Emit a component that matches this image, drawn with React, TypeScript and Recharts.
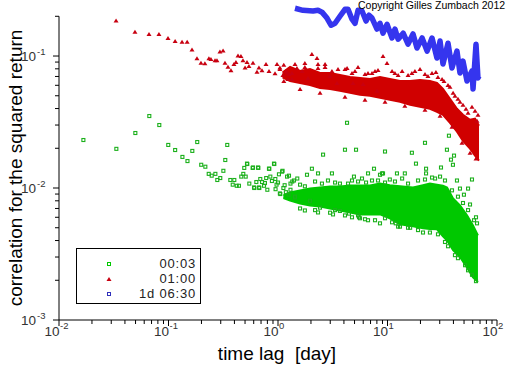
import React from "react";
import { ComposedChart, XAxis, YAxis, Scatter, Area, Line, ReferenceLine } from "recharts";

// sampling 00:03 — [lag (day), correlation]
const sparse0003: [number, number][] = [
  [0.0167, 0.0231], [0.0334, 0.0198], [0.0498, 0.0261], [0.0668, 0.0351], [0.0824, 0.03],
  [0.0995, 0.0212], [0.115, 0.0194], [0.134, 0.0172], [0.149, 0.016], [0.165, 0.0191],
  [0.183, 0.0223], [0.199, 0.015], [0.217, 0.0145], [0.233, 0.0128], [0.248, 0.0124],
  [0.268, 0.0128], [0.279, 0.0115], [0.297, 0.0119], [0.317, 0.0135], [0.33, 0.0163],
  [0.344, 0.0212], [0.367, 0.0115], [0.386, 0.0106], [0.399, 0.0115], [0.42, 0.0104],
  [0.44, 0.0104], [0.462, 0.0122], [0.482, 0.0128], [0.492, 0.0142], [0.507, 0.0122],
  [0.524, 0.0152], [0.547, 0.0108], [0.587, 0.0142], [0.608, 0.01], [0.634, 0.0111],
  [0.661, 0.0142], [0.675, 0.01], [0.689, 0.0117], [0.715, 0.0111], [0.745, 0.0104],
  [0.799, 0.0097], [0.833, 0.014], [0.851, 0.0122], [0.925, 0.0152], [0.945, 0.0117],
  [1.0, 0.011], [1.05, 0.009], [1.1, 0.0135], [1.12, 0.01], [1.21, 0.0122],
  [1.25, 0.0089], [1.4, 0.0114], [1.43, 0.0085],
  [0.521, 0.0153], [0.591, 0.0143], [0.657, 0.0143], [0.827, 0.014], [0.919, 0.0153],
  [1.09, 0.0133], [1.26, 0.0124], [1.84, 0.0126], [2.04, 0.014], [2.32, 0.0129],
  [2.58, 0.0179], [3.11, 0.0129], [4.09, 0.0195], [4.27, 0.0312], [5.16, 0.0195],
  [4.94, 0.0122], [6.64, 0.0129], [7.53, 0.014], [8.54, 0.0126], [9.1, 0.0129], [9.49, 0.0189],
  [0.604, 0.0101], [0.671, 0.0101], [1.04, 0.0091], [1.43, 0.0086], [1.96, 0.008],
  [2.42, 0.0071], [3.32, 0.0068], [3.68, 0.0067], [4.45, 0.0064], [5.38, 0.0062],
  [6.23, 0.0058], [5.49, 0.006], [9.49, 0.0059],
  [16.7, 0.0185], [22.0, 0.022], [18.2, 0.0153], [34.9, 0.0195], [36.4, 0.0249],
  [38.0, 0.0164], [40.5, 0.0176], [39.6, 0.015], [30.8, 0.0143], [22.5, 0.014],
  [22.5, 0.0129], [12.2, 0.0129], [14.4, 0.0129], [8.91, 0.0129], [43.1, 0.0114],
  [45.9, 0.0099], [54.4, 0.0099], [59.1, 0.0116], [49.9, 0.0089], [56.7, 0.0075],
  [64.3, 0.006], [65.7, 0.0054],
  [13.0, 0.0051], [15.4, 0.005], [21.1, 0.0046], [11.9, 0.0054],
  [1.59, 0.0106], [2.18, 0.0112], [2.86, 0.0114], [3.68, 0.0108], [4.74, 0.0114],
  [5.85, 0.0118], [7.22, 0.0114], [10.5, 0.0116], [13.6, 0.0118], [19.0, 0.0114],
  [25.5, 0.012], [30.2, 0.0122],
  [1.59, 0.007], [2.18, 0.0068], [2.99, 0.0065], [4.09, 0.0062], [5.61, 0.0059],
  [7.69, 0.0057], [11.0, 0.0055], [16.1, 0.005], [24.4, 0.0046], [33.5, 0.0039],
  [41.3, 0.0031], [51.1, 0.0026], [59.1, 0.0022],
  [1.15, 0.0105], [1.3, 0.0097], [1.35, 0.0112], [1.5, 0.0118], [0.95, 0.0098],
  [0.88, 0.0113], [0.78, 0.0119], [0.76, 0.0109], [1.18, 0.0093], [1.02, 0.0127],
  [0.97, 0.0106], [1.3, 0.0108],
  [1.76, 0.0103], [2.52, 0.0108], [3.32, 0.011], [4.36, 0.0108], [5.38, 0.0112],
  [6.37, 0.011], [8.19, 0.0114], [9.49, 0.011], [11.7, 0.0112], [15.4, 0.0108],
  [22.0, 0.0116], [27.2, 0.0118], [33.5, 0.0114], [38.8, 0.0096], [44.0, 0.0086],
  [48.9, 0.0077], [54.4, 0.0068], [61.7, 0.0057],
  [1.76, 0.00676], [2.32, 0.00653], [3.18, 0.00631], [4.74, 0.006], [6.64, 0.0057],
  [8.54, 0.0054], [12.5, 0.0051], [19.0, 0.0048], [28.9, 0.00446], [35.7, 0.00362],
  [44.0, 0.00294], [54.4, 0.00238], [64.3, 0.00197],
];

// dense part of 00:03 — [lag, upper, lower]
const band0003: [number, number, number][] = [
  [1.12, 0.0088, 0.0084],
  [1.29, 0.00925, 0.00805], [1.59, 0.00958, 0.00764], [1.96, 0.00991, 0.00738],
  [2.42, 0.01009, 0.00725], [2.99, 0.01026, 0.007], [3.68, 0.01026, 0.00676],
  [4.55, 0.01045, 0.00653], [5.61, 0.01045, 0.00631], [6.92, 0.01045, 0.00631],
  [8.54, 0.0108, 0.00631], [10.5, 0.0105, 0.00589], [13.0, 0.0103, 0.0053],
  [17.1, 0.0101, 0.00512], [21.1, 0.0105, 0.00495], [24.4, 0.0108, 0.0049],
  [28.3, 0.0106, 0.00486], [32.1, 0.0104, 0.0043], [35.0, 0.0101, 0.004],
  [39.7, 0.00833, 0.00338], [45.9, 0.00738, 0.003], [53.2, 0.0062, 0.0025],
  [60.4, 0.00521, 0.0021], [67.0, 0.00438, 0.00194],
];

// sampling 01:00
const sparse0100: [number, number][] = [
  [0.0332, 0.186], [0.0494, 0.153], [0.0664, 0.147], [0.0818, 0.147], [0.099, 0.137],
  [0.115, 0.13], [0.133, 0.128], [0.148, 0.128], [0.164, 0.112], [0.182, 0.096],
  [0.198, 0.089], [0.215, 0.088], [0.234, 0.096], [0.244, 0.095], [0.266, 0.093],
  [0.277, 0.093], [0.295, 0.108], [0.315, 0.11], [0.328, 0.089], [0.349, 0.083],
  [0.372, 0.078], [0.396, 0.087], [0.413, 0.09], [0.431, 0.101], [0.459, 0.1],
  [0.479, 0.093], [0.5, 0.082], [0.521, 0.09], [0.543, 0.084], [0.591, 0.089],
  [0.643, 0.076], [0.67, 0.082], [0.714, 0.078], [0.777, 0.087], [0.828, 0.077],
  [0.939, 0.074], [0.979, 0.087], [1.04, 0.082], [1.13, 0.086], [1.21, 0.075], [1.26, 0.073],
  [1.34, 0.0671], [1.49, 0.0812], [1.66, 0.0771], [1.76, 0.0886], [1.88, 0.0682],
  [2.04, 0.1035], [2.27, 0.0966], [2.32, 0.0812], [2.69, 0.087], [2.98, 0.0706],
  [3.46, 0.0625], [4.27, 0.0812], [4.84, 0.0625], [5.98, 0.0615], [7.22, 0.0744], [8.02, 0.0545],
  [2.69, 0.0826], [3.11, 0.0771], [4.09, 0.0798], [4.74, 0.0744], [5.38, 0.0826],
  [6.23, 0.0731], [7.69, 0.0771], [9.1, 0.1], [9.9, 0.0886], [11.7, 0.0744],
  [13.6, 0.0771], [15.4, 0.0719], [17.8, 0.0771], [22.0, 0.0731], [25.5, 0.0744],
  [28.9, 0.0694], [32.8, 0.0647], [37.2, 0.0584], [41.3, 0.0499], [45.9, 0.045],
  [52.1, 0.0398], [59.1, 0.0412], [63.0, 0.0385], [67.0, 0.0359],
  [1.04, 0.0798], [1.11, 0.0719], [1.18, 0.0771], [1.23, 0.067], [1.13, 0.0647], [1.34, 0.0744],
  [1.43, 0.087], [1.76, 0.0826], [2.32, 0.087], [3.53, 0.0798], [5.05, 0.0771],
  [6.64, 0.0744], [8.19, 0.0784], [11.0, 0.0771], [12.5, 0.0719], [16.7, 0.0744],
  [19.8, 0.0798], [23.4, 0.0706], [27.7, 0.0757], [31.5, 0.067], [35.7, 0.0604],
  [39.7, 0.0526], [44.0, 0.0474], [48.9, 0.0427], [54.4, 0.0372], [65.7, 0.0323],
  [1.59, 0.0563], [2.42, 0.0526], [4.09, 0.0491], [6.23, 0.0466], [9.49, 0.045],
  [14.4, 0.042], [22.0, 0.0391], [30.2, 0.0352], [38.8, 0.0291], [47.9, 0.022],
  [56.7, 0.0185], [64.3, 0.0167],
];

const band0100: [number, number, number][] = [
  [1.1, 0.075, 0.069],
  [1.29, 0.0826, 0.0647], [1.59, 0.0771, 0.0625], [1.96, 0.0798, 0.0604],
  [2.42, 0.0744, 0.0573], [2.99, 0.0744, 0.0563], [3.68, 0.0719, 0.0545],
  [4.55, 0.0694, 0.0526], [5.61, 0.0682, 0.0508], [6.92, 0.067, 0.0499],
  [8.54, 0.0694, 0.0482], [10.5, 0.067, 0.0466], [13.0, 0.0647, 0.045],
  [16.1, 0.0647, 0.0427], [19.8, 0.0659, 0.0412], [24.4, 0.0647, 0.0398],
  [28.3, 0.0625, 0.0378], [32.1, 0.0563, 0.0359], [37.2, 0.0474, 0.0312],
  [43.1, 0.0398, 0.0267], [48.9, 0.0359, 0.0228], [56.7, 0.0329, 0.0199],
  [63.0, 0.0335, 0.0176], [68.5, 0.0296, 0.0161],
];

// sampling 1d 06:30
const series1d0630: [number, number][] = [
  [1.43, 0.23], [1.69, 0.222], [2.09, 0.219], [2.32, 0.222], [2.52, 0.215],
  [2.8, 0.194], [3.05, 0.171], [3.32, 0.177], [3.68, 0.2], [4.09, 0.226],
  [4.36, 0.226], [4.74, 0.19], [5.05, 0.177], [5.38, 0.222], [5.85, 0.219],
  [6.37, 0.184], [6.78, 0.204], [7.22, 0.194], [8.02, 0.16], [8.54, 0.177],
  [9.1, 0.149], [9.9, 0.174], [11.0, 0.137], [11.7, 0.16], [12.5, 0.134],
  [13.9, 0.149], [15.4, 0.123], [17.1, 0.147], [18.6, 0.115], [20.7, 0.137],
  [23.0, 0.109], [25.5, 0.137], [28.3, 0.0966], [30.2, 0.13], [32.1, 0.087],
  [35.7, 0.125], [38.8, 0.0812], [43.1, 0.109], [45.9, 0.0744], [48.9, 0.0916],
  [53.2, 0.0647], [59.1, 0.0771], [60.4, 0.0563], [64.3, 0.123], [67.0, 0.0682], [68.5, 0.0706],
];

const seriesNames = ["00:03", "01:00", "1d 06:30"];
const seriesColors = ["#00c800", "#d00000", "#3535ee"];

const xMajorTicks = [0.01, 0.1, 1, 10, 100];
const xTickExponents = ["-2", "-1", "0", "1", "2"];
const yMajorTicks = [0.001, 0.01, 0.1];
const yTickExponents = ["-3", "-2", "-1"];
const minorSteps = [2, 3, 4, 5, 6, 7, 8, 9];

const xTicks = [
  ...xMajorTicks,
  ...[0.01, 0.1, 1, 10].flatMap((d) => minorSteps.map((m) => m * d)),
];
const yTicks = [
  ...yMajorTicks,
  ...[0.001, 0.01].flatMap((d) => minorSteps.map((m) => m * d)),
  0.2,
];

const toPoints = (a: [number, number][]) => a.map(([lag, corr]) => ({ lag, corr }));
const toBand = (a: [number, number, number][]) =>
  a.map(([lag, hi, lo]) => ({ lag, band: [lo, hi] }));

const font = "'Liberation Sans', Arial, sans-serif";

const XTick = (props: any) => {
  const { x, y, payload } = props;
  const i = xMajorTicks.findIndex((t) => Math.abs(t - payload.value) < t * 1e-6);
  if (i < 0) return <line x1={x} x2={x} y1={y} y2={y + 4} stroke="#000" />;
  return (
    <g fontFamily={font} fill="#333">
      <line x1={x} x2={x} y1={y} y2={y + 6} stroke="#000" />
      <text x={x + 0.5} y={y + 16} textAnchor="end" fontSize={13.5}>10</text>
      <text x={x + 1} y={y + 9} textAnchor="start" fontSize={9.5}>{xTickExponents[i]}</text>
    </g>
  );
};

const YTick = (props: any) => {
  const { x, y, payload } = props;
  const i = yMajorTicks.findIndex((t) => Math.abs(t - payload.value) < t * 1e-6);
  if (i < 0) return <line x1={x - 4} x2={x} y1={y} y2={y} stroke="#000" />;
  return (
    <g fontFamily={font} fill="#333">
      <line x1={x - 6} x2={x} y1={y} y2={y} stroke="#000" />
      <text x={x - 23} y={y + 5} textAnchor="end" fontSize={13.5}>10</text>
      <text x={x - 22} y={y - 1} textAnchor="start" fontSize={9.5}>{yTickExponents[i]}</text>
    </g>
  );
};

const SquareMark = (color: string) => (p: any) =>
  <rect x={p.cx - 1.5} y={p.cy - 1.5} width={3} height={3} fill="none" stroke={color} strokeWidth={1.1} />;

const TriangleMark = (color: string) => (p: any) =>
  <polygon points={`${p.cx - 2.5},${p.cy + 2} ${p.cx + 2.5},${p.cy + 2} ${p.cx},${p.cy - 2}`} fill={color} />;

export default function App() {
  return (
    <div style={{ position: "absolute", left: 0, top: 0, width: 512, height: 366, background: "#fff" }}>
      <ComposedChart width={512} height={366} margin={{ top: 3.5, right: 15, bottom: 0, left: 0 }}>
        <XAxis
          type="number"
          dataKey="lag"
          scale="log"
          domain={[0.01, 100]}
          ticks={xTicks}
          interval={0}
          tickSize={0}
          tickMargin={0}
          tickLine={false}
          tick={<XTick />}
          axisLine={{ stroke: "#000" }}
          height={46}
          allowDataOverflow
        />
        <YAxis
          type="number"
          dataKey="corr"
          scale="log"
          domain={[0.001, 0.25]}
          ticks={yTicks}
          interval={0}
          tickSize={0}
          tickMargin={0}
          tickLine={false}
          tick={<YTick />}
          axisLine={false}
          width={59}
        />
        <ReferenceLine
          segment={[{ x: 0.01, y: 0.001 }, { x: 0.01, y: 0.2 }]}
          stroke="#000"
        />
        <Area
          data={toBand(band0003)}
          dataKey="band"
          type="linear"
          stroke={seriesColors[0]}
          strokeWidth={2}
          fill={seriesColors[0]}
          fillOpacity={1}
          isAnimationActive={false}
          legendType="none"
        />
        <Scatter
          data={toPoints(sparse0003)}
          name={seriesNames[0]}
          shape={SquareMark("#1cb01c")}
          isAnimationActive={false}
        />
        <Area
          data={toBand(band0100)}
          dataKey="band"
          type="linear"
          stroke={seriesColors[1]}
          strokeWidth={2}
          fill={seriesColors[1]}
          fillOpacity={1}
          isAnimationActive={false}
          legendType="none"
        />
        <Scatter
          data={toPoints(sparse0100)}
          name={seriesNames[1]}
          shape={TriangleMark("#c80010")}
          isAnimationActive={false}
        />
        <Line
          data={toPoints(series1d0630)}
          dataKey="corr"
          name={seriesNames[2]}
          type="linear"
          stroke={seriesColors[2]}
          strokeWidth={5.5}
          strokeLinejoin="round"
          dot={false}
          isAnimationActive={false}
        />
      </ComposedChart>

      <div
        style={{
          position: "absolute", left: 358, top: -1, fontFamily: font, fontSize: 10.5,
          color: "#000", whiteSpace: "nowrap",
        }}
      >
        Copyright Gilles Zumbach 2012
      </div>

      <div
        style={{
          position: "absolute", left: 127, top: 342, width: 300, textAlign: "center",
          fontFamily: font, fontSize: 19, whiteSpace: "pre", lineHeight: "24px",
        }}
      >
        {"time lag  [day]"}
      </div>

      <svg style={{ position: "absolute", left: 0, top: 0 }} width={40} height={366}>
        <text
          x={0}
          y={0}
          transform="translate(22,168) rotate(-90)"
          textAnchor="middle"
          fontFamily={font}
          fontSize={19}
        >
          correlation for the squared return
        </text>
      </svg>

      <div
        style={{
          position: "absolute", left: 76, top: 248, width: 123, height: 54,
          border: "1px solid #000", background: "#fff", fontFamily: font, fontSize: 13,
          letterSpacing: 0.8, color: "#222",
        }}
      >
        {seriesNames.map((name, i) => (
          <div key={name} style={{ position: "absolute", left: 0, top: 7 + i * 15, width: 121, height: 15 }}>
            <svg style={{ position: "absolute", left: 28, top: 4 }} width={8} height={8}>
              {i === 1 ? (
                <polygon points="1.5,6 6.5,6 4,2" fill="#c80010" />
              ) : (
                <rect x={2.5} y={2.5} width={3} height={3} fill="none" stroke={i === 0 ? seriesColors[0] : "#3030bb"} />
              )}
            </svg>
            <span style={{ position: "absolute", right: 2, top: 0, lineHeight: "15px" }}>{name}</span>
          </div>
        ))}
      </div>
    </div>
  );
}
